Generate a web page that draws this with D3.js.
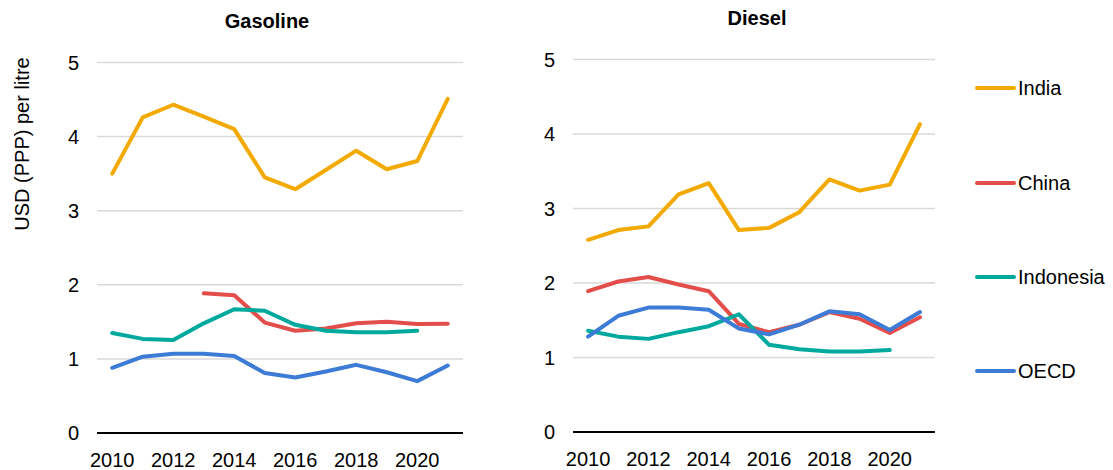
<!DOCTYPE html>
<html lang="en">
<head>
<meta charset="UTF-8">
<title>Gasoline and Diesel prices</title>
<script src="https://cdnjs.cloudflare.com/ajax/libs/d3/7.8.5/d3.min.js"></script>
<style>
  body { margin: 0; background: #fff; }
  svg { display: block; font-family: "Liberation Sans", Arial, sans-serif; }
  .grid line { stroke: #d9d9d9; stroke-width: 1.5px; }
  .tick-label { font-size: 20px; fill: #000; }
  .series { fill: none; stroke-width: 4px; stroke-linejoin: round; stroke-linecap: round; }
</style>
</head>
<body>
<svg id="chart" width="1113" height="470"></svg>
<script>
// years on the x axis
const years = [2010, 2011, 2012, 2013, 2014, 2015, 2016, 2017, 2018, 2019, 2020, 2021];
const yTicks = [0, 1, 2, 3, 4, 5];
const xTicks = [2010, 2012, 2014, 2016, 2018, 2020];

const seriesNames = ['India', 'China', 'Indonesia', 'OECD'];
const seriesColors = ['#f2a900', '#e34e4b', '#00a99d', '#3c7bd6'];

// Gasoline, USD (PPP) per litre (null = no data)
const gasIndia     = [3.50, 4.26, 4.43, 4.27, 4.10, 3.45, 3.29, 3.55, 3.81, 3.56, 3.67, 4.51];
const gasChina     = [null, null, null, 1.885, 1.86, 1.49, 1.38, 1.41, 1.48, 1.50, 1.47, 1.475];
const gasIndonesia = [1.35, 1.27, 1.255, 1.48, 1.67, 1.65, 1.46, 1.38, 1.36, 1.36, 1.38, null];
const gasOECD      = [0.88, 1.03, 1.07, 1.07, 1.04, 0.81, 0.75, 0.83, 0.92, 0.82, 0.70, 0.91];

// Diesel, USD (PPP) per litre
const dslIndia     = [2.58, 2.71, 2.76, 3.19, 3.34, 2.71, 2.74, 2.95, 3.39, 3.24, 3.32, 4.13];
const dslChina     = [1.89, 2.02, 2.08, 1.98, 1.89, 1.45, 1.34, 1.44, 1.61, 1.52, 1.33, 1.54];
const dslIndonesia = [1.36, 1.28, 1.25, 1.34, 1.42, 1.58, 1.17, 1.11, 1.08, 1.08, 1.10, null];
const dslOECD      = [1.28, 1.56, 1.67, 1.67, 1.64, 1.39, 1.31, 1.44, 1.62, 1.58, 1.37, 1.61];

const svg = d3.select('#chart');

function drawPanel(opts) {
  const { title, titleX, titleY, left, right, top, bottom, labelRight, data } = opts;

  const x = d3.scaleLinear().domain([2009.5, 2021.5]).range([left, right]);
  const y = d3.scaleLinear().domain([0, 5]).range([bottom, top]);

  const g = svg.append('g');

  // gridlines
  g.append('g').attr('class', 'grid')
    .selectAll('line')
    .data(yTicks.filter(d => d > 0))
    .enter().append('line')
    .attr('x1', left).attr('x2', right)
    .attr('y1', d => y(d)).attr('y2', d => y(d));

  // baseline
  g.append('line')
    .attr('x1', left).attr('x2', right)
    .attr('y1', y(0)).attr('y2', y(0))
    .attr('stroke', '#000').attr('stroke-width', 2);

  // y tick labels
  g.selectAll('.ylab')
    .data(yTicks)
    .enter().append('text')
    .attr('class', 'tick-label')
    .attr('x', labelRight)
    .attr('y', d => y(d))
    .attr('dy', '0.36em')
    .attr('text-anchor', 'end')
    .text(d => d);

  // x tick labels
  g.selectAll('.xlab')
    .data(xTicks)
    .enter().append('text')
    .attr('class', 'tick-label')
    .attr('x', d => x(d))
    .attr('y', bottom + 34)
    .attr('text-anchor', 'middle')
    .text(d => d);

  // title
  g.append('text')
    .attr('x', titleX).attr('y', titleY)
    .attr('text-anchor', 'middle')
    .attr('font-size', 20).attr('font-weight', 'bold')
    .text(title);

  const line = d3.line()
    .defined(d => d != null)
    .x((d, i) => x(years[i]))
    .y(d => y(d));

  data.forEach((values, i) => {
    g.append('path')
      .attr('class', 'series')
      .attr('stroke', seriesColors[i])
      .attr('d', line(values));
  });
}

drawPanel({
  title: 'Gasoline', titleX: 267, titleY: 28,
  left: 97, right: 463, top: 62.5, bottom: 433, labelRight: 79,
  data: [gasIndia, gasChina, gasIndonesia, gasOECD]
});

drawPanel({
  title: 'Diesel', titleX: 757, titleY: 25,
  left: 573, right: 935, top: 59.5, bottom: 432, labelRight: 555,
  data: [dslIndia, dslChina, dslIndonesia, dslOECD]
});

// y axis title
svg.append('text')
  .attr('transform', 'translate(29,144) rotate(-90)')
  .attr('text-anchor', 'middle')
  .attr('font-size', 20)
  .text('USD (PPP) per litre');

// legend
const legendY = [88, 183, 277, 371];
const legend = svg.append('g')
  .selectAll('g')
  .data(seriesNames)
  .enter().append('g')
  .attr('transform', (d, i) => `translate(0,${legendY[i]})`);

legend.append('line')
  .attr('x1', 977).attr('x2', 1014)
  .attr('stroke', (d, i) => seriesColors[i])
  .attr('stroke-width', 4)
  .attr('stroke-linecap', 'round');

legend.append('text')
  .attr('class', 'tick-label')
  .attr('x', 1018)
  .attr('dy', '0.36em')
  .text(d => d);
</script>
</body>
</html>
